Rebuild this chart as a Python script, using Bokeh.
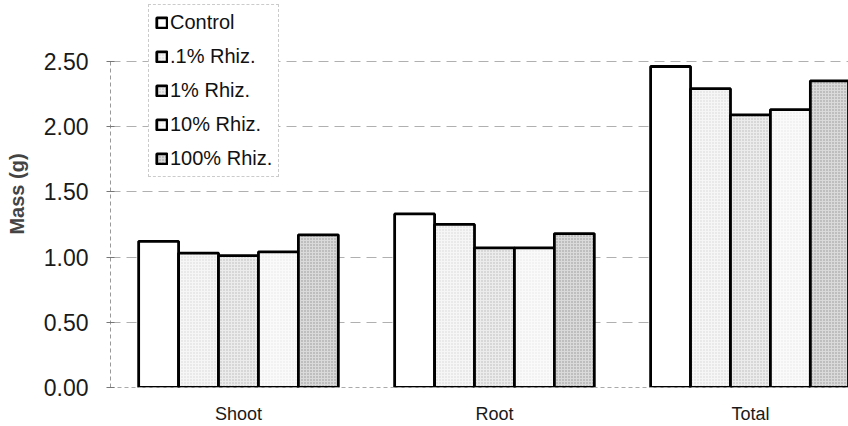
from bokeh.plotting import figure
from bokeh.models import (Range1d, Legend, LegendItem, FixedTicker,
                          NumeralTickFormatter, ColumnDataSource)
from bokeh.transform import dodge
from bokeh.embed import file_html
from bokeh.resources import INLINE

groups = ["Shoot", "Root", "Total"]
series = ["Control", ".1% Rhiz.", "1% Rhiz.", "10% Rhiz.", "100% Rhiz."]
control = [1.12, 1.33, 2.46]
rhiz_01 = [1.03, 1.25, 2.29]
rhiz_1 = [1.01, 1.07, 2.09]
rhiz_10 = [1.04, 1.07, 2.13]
rhiz_100 = [1.17, 1.18, 2.35]
y_ticks = [0, 0.5, 1.0, 1.5, 2.0, 2.5]

group_idx = list(range(len(groups)))
src = ColumnDataSource(dict(idx=group_idx, groups=groups, control=control, rhiz_01=rhiz_01,
                            rhiz_1=rhiz_1, rhiz_10=rhiz_10, rhiz_100=rhiz_100))
cols = ["control", "rhiz_01", "rhiz_1", "rhiz_10", "rhiz_100"]
fills = ["white", "#f6f6f6", "#ececec", "#fafafa", "#dadada"]
hatch_alpha = [0.0, 0.25, 0.45, 0.15, 0.7]

p = figure(width=848, height=426, x_range=Range1d(-0.5, 2.383), y_range=Range1d(0, 2.966),
           output_backend="svg", toolbar_location=None,
           min_border_left=110, min_border_right=0, min_border_top=0, min_border_bottom=38)
p.outline_line_color = None
p.background_fill_color = "white"
p.border_fill_color = "white"

FONT = "Liberation Sans"
bar_w = 0.156
renderers = []
for i, (c, f, ha) in enumerate(zip(cols, fills, hatch_alpha)):
    r = p.vbar(x=dodge("idx", (i - 2) * bar_w), top=c, width=bar_w,
               source=src, fill_color=f, line_color="black", line_width=2.8,
               hatch_pattern=".", hatch_scale=3, hatch_color="#777777", hatch_alpha=ha)
    renderers.append(r)

# y axis
yax = p.yaxis[0]
yax.ticker = FixedTicker(ticks=y_ticks)
yax.formatter = NumeralTickFormatter(format="0.00")
yax.bounds = (0, 2.5)
yax.axis_label = "Mass (g)"
yax.axis_label_text_font = FONT
yax.axis_label_text_font_style = "bold"
yax.axis_label_text_font_size = "20px"
yax.axis_label_standoff = 13
yax.major_label_text_font = FONT
yax.major_label_text_font_size = "23px"
yax.major_label_text_color = "#1a1a1a"
yax.major_label_standoff = 18
yax.axis_line_color = "#999999"
yax.axis_line_dash = "4 3"
yax.major_tick_in = 4
yax.major_tick_out = 4
yax.major_tick_line_color = "#777777"
yax.minor_tick_line_color = None

# x axis
xax = p.xaxis[0]
xax.ticker = FixedTicker(ticks=group_idx)
xax.major_label_overrides = {i: g for i, g in zip(group_idx, groups)}
xax.minor_tick_line_color = None
xax.major_label_text_font = FONT
xax.major_label_text_font_size = "18px"
xax.major_label_text_color = "#1a1a1a"
xax.major_label_standoff = 16
xax.major_tick_line_color = None
xax.major_tick_in = 0
xax.major_tick_out = 0
xax.axis_line_color = "#aaaaaa"
xax.axis_line_dash = "4 3"

p.xgrid.grid_line_color = None
p.ygrid.grid_line_color = "#b0b0b0"
p.ygrid.grid_line_dash = "10 6"
p.ygrid.grid_line_width = 1

legend = Legend(items=[LegendItem(label=s, renderers=[r]) for s, r in zip(series, renderers)],
                location=(38, 210))
legend.label_text_font = FONT
legend.label_text_font_size = "20px"
legend.label_text_color = "#111111"
legend.glyph_width = 13
legend.glyph_height = 13
legend.label_height = 20
legend.label_standoff = 2
legend.spacing = 11
legend.padding = 6
legend.margin = 0
legend.border_line_color = "#999999"
legend.border_line_dash = "4 3"
legend.background_fill_color = "white"
legend.background_fill_alpha = 1.0
p.add_layout(legend)

open("out.html", "w").write(file_html(p, INLINE))
